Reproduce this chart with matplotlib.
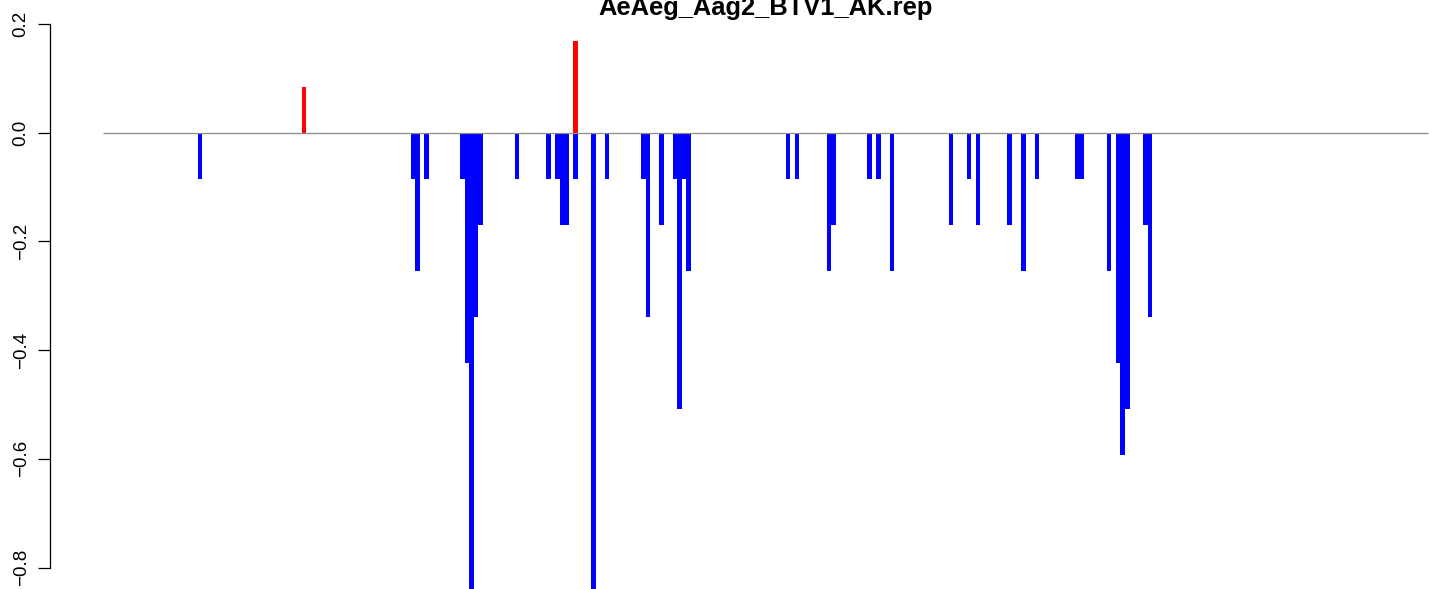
import matplotlib
matplotlib.use("Agg")
import matplotlib.pyplot as plt

plt.rcParams['font.family'] = ['Liberation Sans', 'DejaVu Sans']

title = "AeAeg_Aag2_BTV1_AK.rep"
n_bins = 293

# negative-strand (blue) bins and values
blue_bins = [21, 68, 69, 71, 79, 80, 81, 82, 83, 91, 98, 100, 101, 102, 104,
             108, 111, 119, 120, 123, 126, 127, 128, 129, 151, 153, 160, 161,
             169, 171, 174, 187, 191, 193, 200, 203, 206, 215, 216, 222, 224,
             225, 226, 230, 231]
blue_vals = [-0.085, -0.085, -0.254, -0.085, -0.085, -0.424, -0.847, -0.339,
             -0.169, -0.085, -0.085, -0.085, -0.169, -0.169, -0.085, -0.847,
             -0.085, -0.085, -0.339, -0.169, -0.085, -0.508, -0.085, -0.254,
             -0.085, -0.085, -0.254, -0.169, -0.085, -0.085, -0.254, -0.169,
             -0.085, -0.169, -0.169, -0.254, -0.085, -0.085, -0.085, -0.254,
             -0.424, -0.593, -0.508, -0.169, -0.339]

# positive-strand (red) bins and values
red_bins = [44, 104]
red_vals = [0.085, 0.169]

yticks = [-0.8, -0.6, -0.4, -0.2, 0.0, 0.2]

W, H = 1429, 589
fig = plt.figure(figsize=(W / 100, H / 100), dpi=100)
ax = fig.add_axes([50 / W, 0, (W - 50) / W, 1])

ax.bar(blue_bins, blue_vals, width=1.0, align='edge', color='#0000FF',
       linewidth=0, zorder=2)
ax.bar(red_bins, red_vals, width=1.0, align='edge', color='#FF0000',
       linewidth=0, zorder=2)
ax.plot([0, n_bins], [0, 0], color='#8C8C8C', lw=0.9, zorder=3,
        solid_capstyle='butt')

px_per_bin = 1325 / n_bins
x_left = -0.04 * n_bins
ax.set_xlim(x_left, x_left + (W - 50) / px_per_bin)
y0_px = 132.7
px_per_unit = 543.5
ax.set_ylim(-(H - y0_px) / px_per_unit, y0_px / px_per_unit)

for s in ['top', 'right', 'bottom']:
    ax.spines[s].set_visible(False)
ax.spines['left'].set_linewidth(0.9)
ax.spines['left'].set_bounds(yticks[0], yticks[-1])
ax.set_xticks([])
ax.set_yticks(yticks)
ax.set_yticklabels([f"{v:.1f}".replace('-', '\u2212') for v in yticks])
ax.tick_params(axis='y', length=8.6, width=0.9, pad=6, labelsize=13.5)
for lab in ax.get_yticklabels():
    lab.set_rotation(90)
    lab.set_va('center')
    lab.set_ha('right')
ax.patch.set_alpha(0)

fig.text(765.5 / W, 1 - 15 / H, title, ha='center', va='baseline',
         fontsize=18.4, fontweight='bold')

fig.savefig('out.png', dpi=100)
